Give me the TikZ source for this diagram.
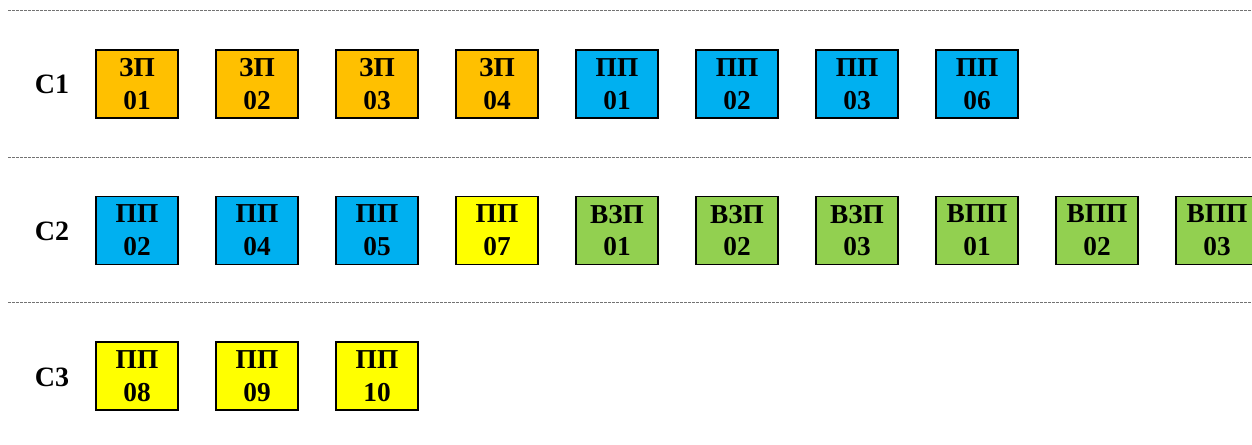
\documentclass[tikz,border=0pt]{standalone}
\usepackage{fontspec}
\setmainfont{Liberation Serif}
\usepackage{tikz}
\usetikzlibrary{positioning}
\definecolor{zpOrange}{HTML}{FFC000}
\definecolor{ppBlue}{HTML}{00B0F0}
\definecolor{ppYellow}{HTML}{FFFF00}
\definecolor{vGreen}{HTML}{92D050}
\tikzset{%
  box/.style={draw=black, line width=1.2pt, minimum width=61.5pt,
    minimum height=51pt, inner sep=0pt, align=center,
    font=\bfseries\fontsize{20.5}{24.5}\selectfont},
  rowlabel/.style={font=\bfseries\fontsize{21}{22}\selectfont},
  separator/.style={draw=gray!90!black, line width=0.6pt, dash pattern=on 2pt off 1pt}%
}
\begin{document}
\begin{tikzpicture}[x=0.75pt,y=-0.75pt] % pixel grid of the sheet
    \useasboundingbox (0,0) rectangle (1252,444);
    \clip (0,0) rectangle (1252,444);
    \def\pitch{120} % distance between boxes
    \def\xA{137} % centre of first box

    \foreach \y in {10,157,302} { \draw[separator] (8,\y) -- (1252,\y); }

    % row C1
    \node[rowlabel] (c1) at (52,84) {C1};
    \foreach \c/\a/\n [count=\i] in {zpOrange/ЗП/01, zpOrange/ЗП/02, zpOrange/ЗП/03,
        zpOrange/ЗП/04, ppBlue/ПП/01, ppBlue/ПП/02, ppBlue/ПП/03, ppBlue/ПП/06}
      { \node[box,fill=\c] (c1-\i) at ({\xA+\pitch*(\i-1)},84) {\a\\\n}; }

    % row C2
    \node[rowlabel] (c2) at (52,231) {C2};
    \foreach \c/\a/\n [count=\i] in {ppBlue/ПП/02, ppBlue/ПП/04, ppBlue/ПП/05,
        ppYellow/ПП/07, vGreen/ВЗП/01, vGreen/ВЗП/02, vGreen/ВЗП/03,
        vGreen/ВПП/01, vGreen/ВПП/02, vGreen/ВПП/03}
      { \node[box,fill=\c] (c2-\i) at ({\xA+\pitch*(\i-1)},230.5) {\a\\\n}; }

    % row C3
    \node[rowlabel] (c3) at (52,377) {C3};
    \foreach \c/\a/\n [count=\i] in {ppYellow/ПП/08, ppYellow/ПП/09, ppYellow/ПП/10}
      { \node[box,fill=\c] (c3-\i) at ({\xA+\pitch*(\i-1)},376) {\a\\\n}; }
\end{tikzpicture}
\end{document}
